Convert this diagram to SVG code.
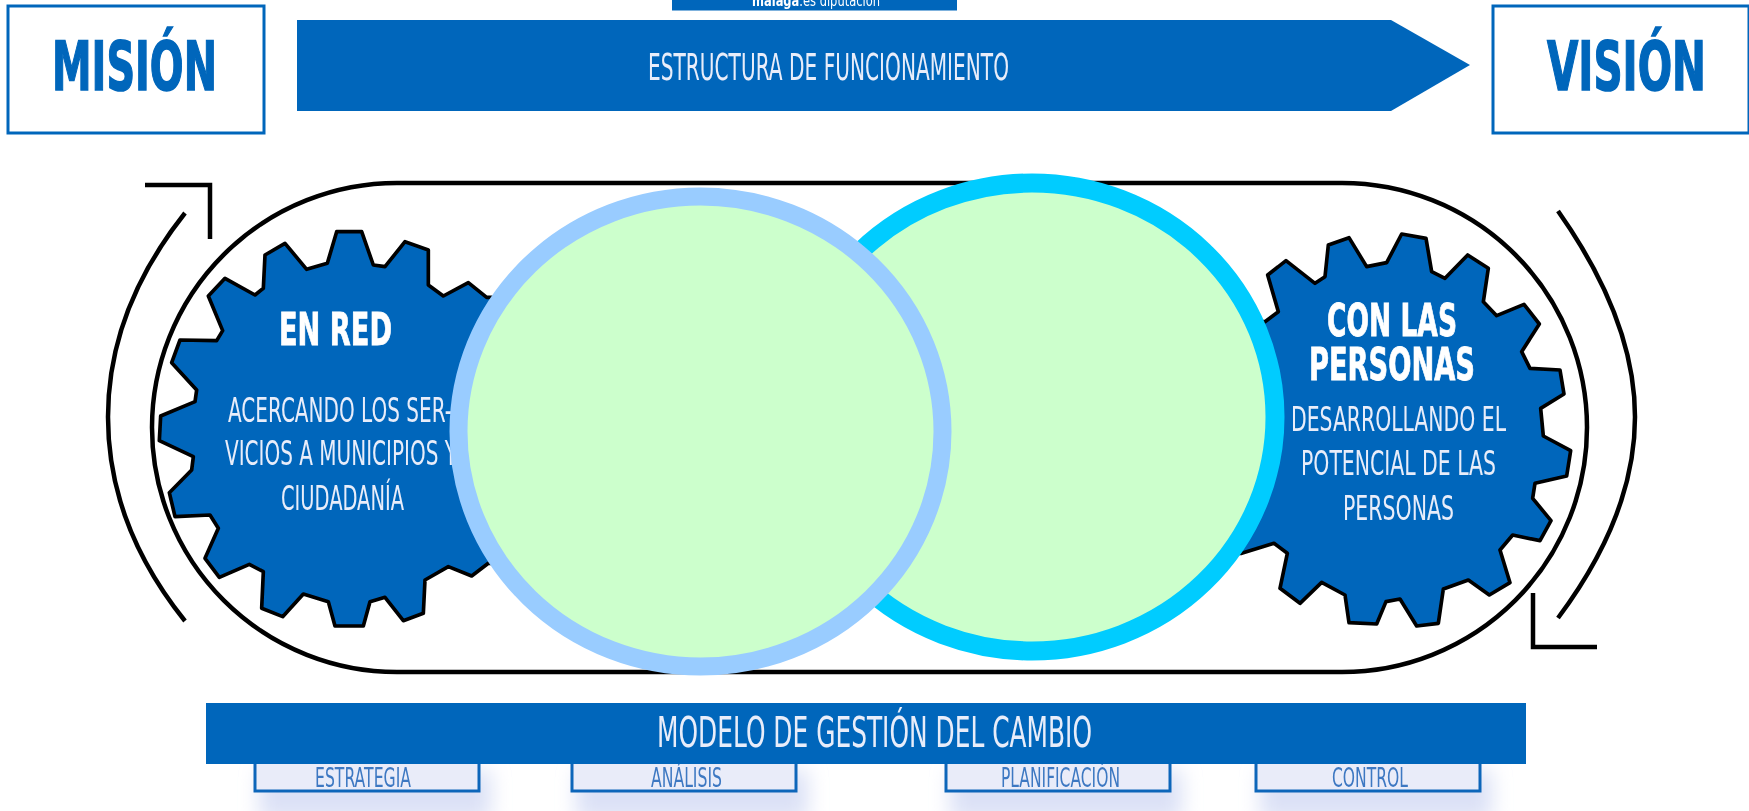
<svg xmlns="http://www.w3.org/2000/svg" width="1749" height="811" viewBox="0 0 1749 811">
<style>
text{font-family:"DejaVu Sans","Liberation Sans",sans-serif;text-anchor:start}
.b{fill:#0066bb}
.frame{fill:#fff;stroke:#0066bb;stroke-width:3}
.big{font-weight:700;font-size:68px;fill:#0066bb;stroke:#0066bb;stroke-width:1.6}
.w{fill:#e8edfa}
.wb{fill:#fff;stroke:#fff;stroke-width:.9;font-weight:700;font-size:44px}
.gear{fill:#0066bb;stroke:#000;stroke-width:11;stroke-linejoin:round}
.ln{fill:none;stroke:#000;stroke-width:4.5}
.tab{fill:#e9ecf9;stroke:#0f66ba;stroke-width:3}
.shadow{fill:#dbe1f6}
.tt{fill:#3d78c2;font-size:27px}
</style>
<defs>
<filter id="soft" x="-25%" y="-60%" width="150%" height="220%"><feGaussianBlur stdDeviation="10"/></filter>
<filter id="aa" x="-5%" y="-5%" width="110%" height="110%"><feGaussianBlur stdDeviation="0.7"/></filter>
</defs>
<rect width="1749" height="811" fill="#fff"/>
<g filter="url(#aa)">
<g id="logo"><rect class="b" x="672" y="0" width="285" height="10.5"/>
<text x="752" y="6" font-size="15" fill="#fff" textLength="128" lengthAdjust="spacingAndGlyphs"><tspan font-weight="700">malaga</tspan>.es diputación</text></g>
<g id="mision"><rect class="frame" x="8" y="6" width="256" height="127"/>
<text class="big" x="52" y="90" textLength="165" lengthAdjust="spacingAndGlyphs">MISIÓN</text></g>
<g id="vision"><rect class="frame" x="1493" y="6" width="256" height="127"/>
<text class="big" x="1547" y="90" textLength="159" lengthAdjust="spacingAndGlyphs">VISIÓN</text></g>
<g id="estructura"><polygon class="b" points="297,20 1391,20 1470,65 1391,111 297,111"/>
<text class="w" x="648" y="80" font-size="37" textLength="361" lengthAdjust="spacingAndGlyphs">ESTRUCTURA DE FUNCIONAMIENTO</text></g>
<g id="connectors">
<rect class="ln" x="152" y="183" width="1435" height="489" rx="245" ry="244.5"/>
<path class="ln" d="M185,213 Q108,310 108,417 Q108,525 185,621"/>
<path class="ln" d="M145,185 H210 V239"/>
<path class="ln" d="M1558,211 Q1635,320 1635,417 Q1635,515 1558,618"/>
<path class="ln" d="M1533,593 V647 H1597"/>
</g>
<g id="en-red">
<polygon class="gear" transform="translate(90 170) scale(.33333)" points="740,185 815,185 850,285 885,290 945,215 1015,240 1015,345 1060,378 1135,338 1190,382 1300,382 1300,1180 1195,1180 1145,1218 1075,1190 1005,1230 1000,1330 940,1352 885,1282 840,1295 820,1368 735,1368 715,1295 640,1272 578,1340 515,1315 520,1205 478,1183 388,1222 345,1165 385,1075 360,1035 255,1040 238,968 305,900 310,860 208,812 212,738 315,695 320,660 245,578 270,510 380,512 398,482 355,378 405,325 495,375 520,355 525,255 585,220 650,298 712,280"/>
<text class="wb" x="279" y="345" textLength="113" lengthAdjust="spacingAndGlyphs">EN RED</text>
<text class="w" x="228" y="422" font-size="34" textLength="224" lengthAdjust="spacingAndGlyphs">ACERCANDO LOS SER-</text>
<text class="w" x="225" y="465" font-size="34" textLength="232" lengthAdjust="spacingAndGlyphs">VICIOS A MUNICIPIOS Y</text>
<text class="w" x="281" y="510" font-size="34" textLength="123" lengthAdjust="spacingAndGlyphs">CIUDADANÍA</text>
</g>
<g id="con-las-personas">
<polygon class="gear" transform="translate(1200 170) scale(.33333)" points="605,192 678,205 695,305 735,325 803,255 865,295 850,395 890,437 972,403 1018,462 965,545 990,595 1080,600 1092,672 1022,715 1030,798 1112,842 1100,918 1005,940 998,985 1053,1052 1020,1112 938,1095 900,1140 930,1238 868,1275 805,1230 730,1257 715,1360 650,1368 600,1287 558,1295 530,1362 447,1358 435,1275 365,1237 300,1300 240,1255 262,1150 222,1120 125,1150 -50,1150 -50,455 195,455 235,425 203,315 258,272 345,340 375,320 385,225 447,203 500,290 560,278"/>
<text class="wb" x="1327" y="336" textLength="130" lengthAdjust="spacingAndGlyphs">CON LAS</text>
<text class="wb" x="1309" y="380" textLength="166" lengthAdjust="spacingAndGlyphs">PERSONAS</text>
<text class="w" x="1291" y="431" font-size="34" textLength="215" lengthAdjust="spacingAndGlyphs">DESARROLLANDO EL</text>
<text class="w" x="1301" y="475" font-size="34" textLength="195" lengthAdjust="spacingAndGlyphs">POTENCIAL DE LAS</text>
<text class="w" x="1343" y="520" font-size="34" textLength="111" lengthAdjust="spacingAndGlyphs">PERSONAS</text>
</g>
<g id="circle-right"><ellipse cx="1032" cy="417" rx="243" ry="234" fill="#ccffcc" stroke="#00ccff" stroke-width="19"/></g>
<g id="circle-left"><ellipse cx="700.5" cy="431.5" rx="242" ry="235" fill="#ccffcc" stroke="#99ccff" stroke-width="18"/></g>
<g id="estrategia"><rect class="shadow" x="259" y="770" width="232" height="50" filter="url(#soft)"/><rect class="tab" x="255" y="760" width="224" height="31"/><text class="tt" x="315" y="787" textLength="96" lengthAdjust="spacingAndGlyphs">ESTRATEGIA</text></g>
<g id="analisis"><rect class="shadow" x="576" y="770" width="232" height="50" filter="url(#soft)"/><rect class="tab" x="572" y="760" width="224" height="31"/><text class="tt" x="651" y="787" textLength="71" lengthAdjust="spacingAndGlyphs">ANÁLISIS</text></g>
<g id="planificacion"><rect class="shadow" x="950" y="770" width="232" height="50" filter="url(#soft)"/><rect class="tab" x="946" y="760" width="224" height="31"/><text class="tt" x="1001" y="787" textLength="119" lengthAdjust="spacingAndGlyphs">PLANIFICACIÓN</text></g>
<g id="control"><rect class="shadow" x="1260" y="770" width="232" height="50" filter="url(#soft)"/><rect class="tab" x="1256" y="760" width="224" height="31"/><text class="tt" x="1332" y="787" textLength="76" lengthAdjust="spacingAndGlyphs">CONTROL</text></g>
<g id="modelo"><rect class="b" x="206" y="703" width="1320" height="61"/>
<text class="w" x="657" y="747" font-size="42" textLength="435" lengthAdjust="spacingAndGlyphs">MODELO DE GESTIÓN DEL CAMBIO</text></g>
</g>
</svg>
